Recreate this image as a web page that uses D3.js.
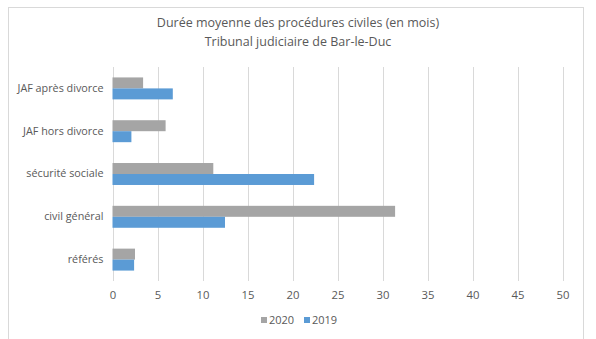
<!DOCTYPE html>
<html><head><meta charset="utf-8">
<script src="https://cdn.jsdelivr.net/npm/d3@7"></script>
<style>body{margin:0;background:#fff}svg{display:block;font-family:"Open Sans",sans-serif}</style>
</head><body><svg id="c" width="596" height="339"></svg>
<script>
const categories = ["JAF après divorce","JAF hors divorce","sécurité sociale","civil général","référés"];
const seriesNames = ["2020","2019"];
const values2020 = [3.4, 5.9, 11.2, 31.4, 2.5];
const values2019 = [6.7, 2.1, 22.4, 12.5, 2.4];
const xTicks = [0,5,10,15,20,25,30,35,40,45,50];
const titleLines = ["Durée moyenne des procédures civiles (en mois)","Tribunal judiciaire de Bar-le-Duc"];
const colors = {"2020":"#a5a5a5","2019":"#5b9bd5"};

const svg = d3.select("#c");
svg.append("rect").attr("x",8.5).attr("y",7.5).attr("width",575).attr("height",340)
  .attr("fill","#fff").attr("stroke","#d9d9d9");

const m = {left:112.5, right:562.5, top:67, bottom:281};
const x = d3.scaleLinear().domain([0,50]).range([m.left,m.right]);
const y = d3.scaleBand().domain(categories).range([m.top,m.bottom]).paddingInner(0.487).paddingOuter(0.2435);
const ySub = d3.scaleBand().domain(seriesNames).range([0,y.bandwidth()]);

svg.append("g").selectAll("line").data(xTicks).join("line")
  .attr("x1",d=>Math.round(x(d))+0.5).attr("x2",d=>Math.round(x(d))+0.5)
  .attr("y1",m.top).attr("y2",m.bottom).attr("stroke","#d9d9d9").attr("stroke-width",1);

const data = seriesNames.map(s=>({s, vals: s==="2020"?values2020:values2019}));
svg.append("g").selectAll("g").data(data).join("g").attr("fill",d=>colors[d.s])
  .selectAll("rect").data(d=>d.vals.map((v,i)=>({s:d.s,v,c:categories[i]}))).join("rect")
  .attr("x",x(0)).attr("y",d=>y(d.c)+ySub(d.s)).attr("height",ySub.bandwidth())
  .attr("width",d=>x(d.v)-x(0));

const xAxis = svg.append("g").attr("transform",`translate(0,${m.bottom})`)
  .call(d3.axisBottom(x).tickValues(xTicks).tickSize(0).tickPadding(10));
xAxis.select(".domain").remove();
xAxis.selectAll("text").attr("fill","#595959").style("font-size","11.3px").style("font-family","'Open Sans',sans-serif");

const yAxis = svg.append("g").attr("transform",`translate(${m.left},0)`)
  .call(d3.axisLeft(y).tickSize(0).tickPadding(9));
yAxis.select(".domain").remove();
yAxis.selectAll("text").attr("fill","#595959").style("font-size","10.8px").style("font-family","'Open Sans',sans-serif");

svg.append("g").selectAll("text").data(titleLines).join("text")
  .attr("x",298).attr("y",(d,i)=>27+i*19).attr("text-anchor","middle")
  .attr("fill","#595959").style("font-size","12.5px").text(d=>d);

const leg = svg.append("g").selectAll("g").data(seriesNames).join("g")
  .attr("transform",(d,i)=>`translate(${261+i*43},${317})`);
leg.append("rect").attr("width",6).attr("height",6).attr("fill",d=>colors[d]);
leg.append("text").attr("x",8).attr("y",7).attr("fill","#595959").style("font-size","11px").text(d=>d);
</script></body></html>
